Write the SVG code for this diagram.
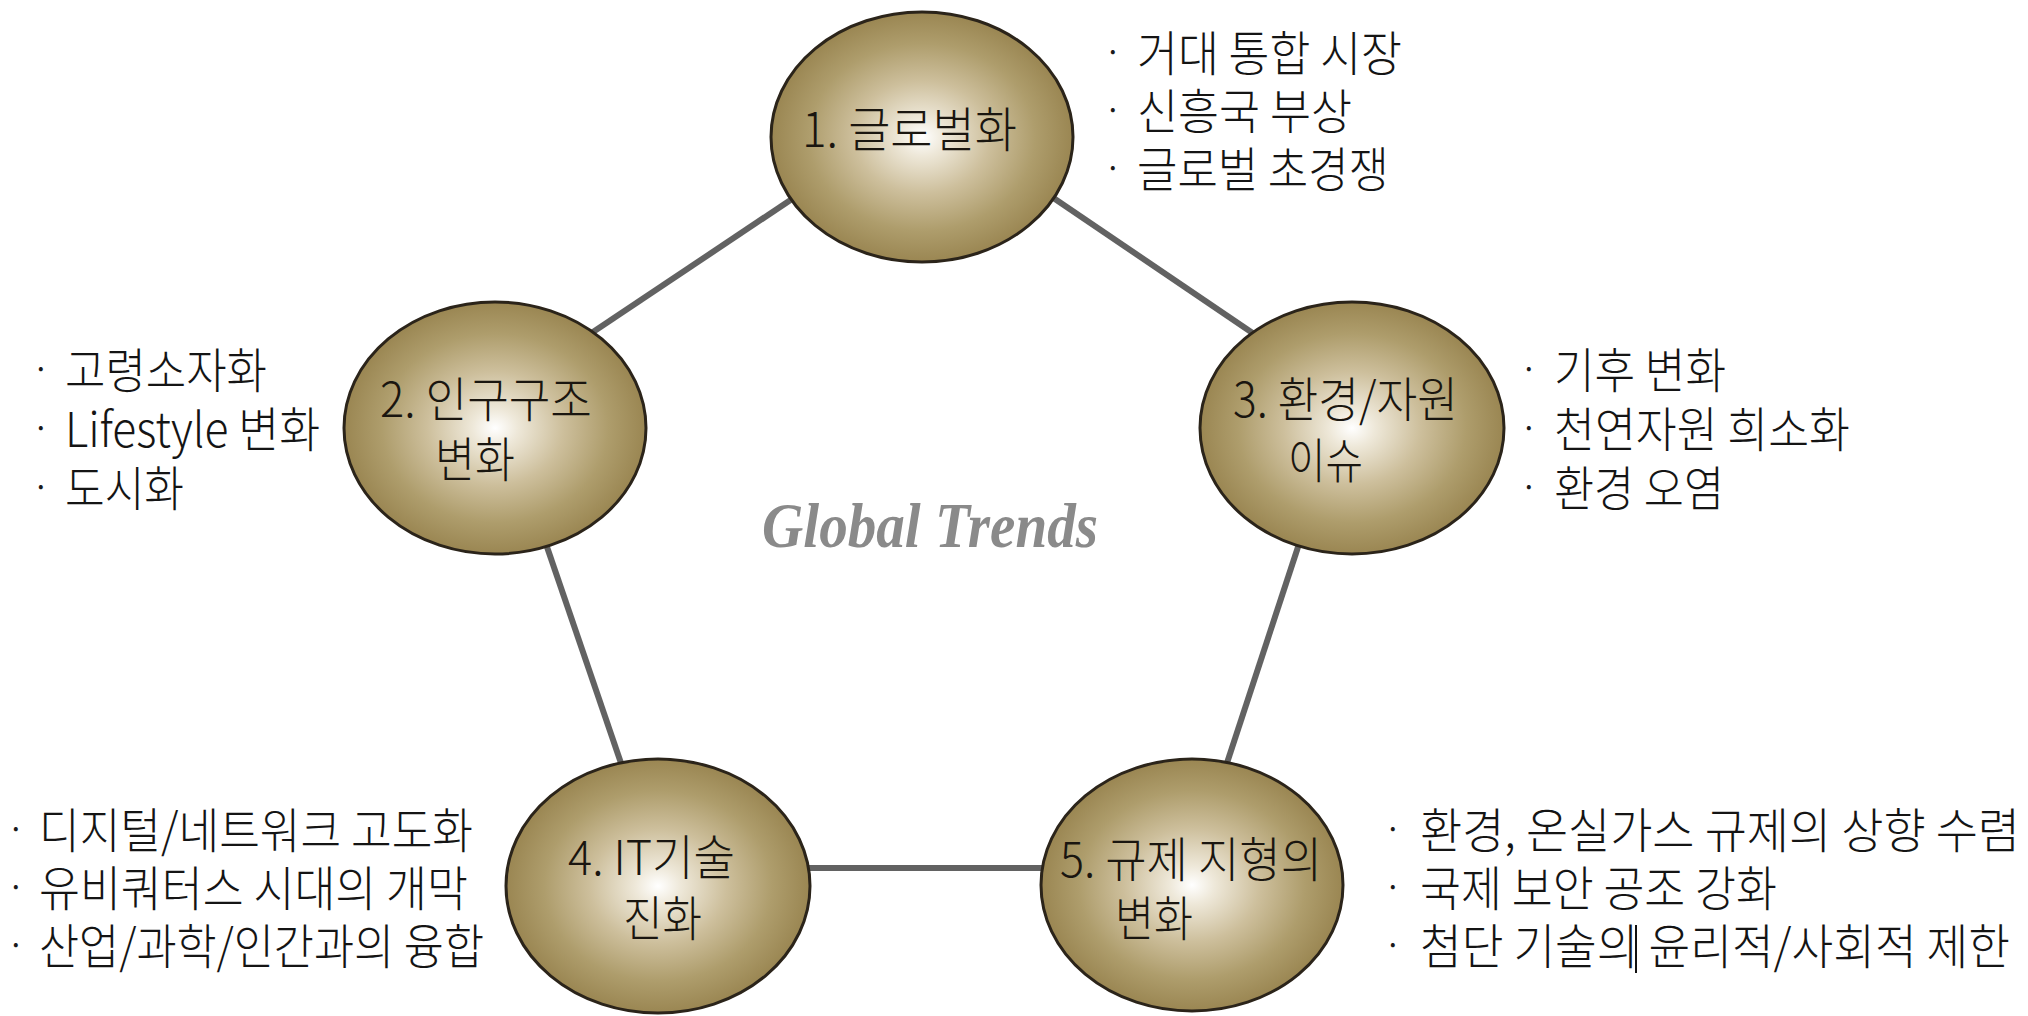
<svg xmlns="http://www.w3.org/2000/svg" width="2028" height="1016" viewBox="0 0 2028 1016">
<style>
.kr{font-family:"Noto Sans CJK KR","Noto Sans",sans-serif;font-size:48px;font-weight:300;fill:#141414}
.lbl{font-family:"Noto Sans CJK KR","Noto Sans",sans-serif;font-size:48px;font-weight:300;fill:#1a1610}
.bul{font-family:"Noto Sans CJK KR","Noto Sans",sans-serif;font-size:30px;fill:#1a1a1a;text-anchor:middle}
.node{fill:url(#gold);stroke:#2b241a;stroke-width:3}
.conn{stroke:#626262;stroke-width:6;fill:none}
.title{font-family:"Liberation Serif",serif;font-style:italic;font-weight:bold;font-size:64px;fill:#8a8a8a}
</style>
<defs>
<radialGradient id="gold" cx="0.5" cy="0.5" r="0.5">
<stop offset="0" stop-color="#ffffff"/>
<stop offset="0.15" stop-color="#eee8d9"/>
<stop offset="0.45" stop-color="#cdbf9c"/>
<stop offset="0.75" stop-color="#ae9d6c"/>
<stop offset="1" stop-color="#9a8652"/>
</radialGradient>
</defs>
<rect width="2028" height="1016" fill="#ffffff"/>
<g id="connectors">
<line class="conn" x1="795" y1="197" x2="590" y2="334"/>
<line class="conn" x1="1052" y1="197" x2="1257" y2="336"/>
<line class="conn" x1="546" y1="544" x2="622" y2="766"/>
<line class="conn" x1="1299" y1="544" x2="1226" y2="766"/>
<line class="conn" x1="806" y1="868" x2="1046" y2="868"/>
</g>
<text id="title" class="title" x="762" y="547" textLength="336" lengthAdjust="spacingAndGlyphs">Global Trends</text>
<g id="node1">
<ellipse class="node" cx="922" cy="137" rx="151" ry="125"/>
<text class="lbl" x="802" y="147" textLength="215" lengthAdjust="spacingAndGlyphs">1. 글로벌화</text>
</g>
<g id="node2">
<ellipse class="node" cx="495" cy="428" rx="151" ry="126"/>
<text class="lbl" x="380" y="417" textLength="212" lengthAdjust="spacingAndGlyphs">2. 인구구조</text>
<text class="lbl" x="435" y="477" textLength="80" lengthAdjust="spacingAndGlyphs">변화</text>
</g>
<g id="node3">
<ellipse class="node" cx="1352" cy="428" rx="152" ry="126"/>
<text class="lbl" x="1233" y="417" textLength="225" lengthAdjust="spacingAndGlyphs">3. 환경/자원</text>
<text class="lbl" x="1288" y="478" textLength="75" lengthAdjust="spacingAndGlyphs">이슈</text>
</g>
<g id="node4">
<ellipse class="node" cx="658" cy="886" rx="152" ry="127"/>
<text class="lbl" x="568" y="875" textLength="167" lengthAdjust="spacingAndGlyphs">4. IT기술</text>
<text class="lbl" x="623" y="936" textLength="79" lengthAdjust="spacingAndGlyphs">진화</text>
</g>
<g id="node5">
<ellipse class="node" cx="1192" cy="885" rx="151" ry="126"/>
<text class="lbl" x="1060" y="877" textLength="262" lengthAdjust="spacingAndGlyphs">5. 규제 지형의</text>
<text class="lbl" x="1115" y="936" textLength="78" lengthAdjust="spacingAndGlyphs">변화</text>
</g>
<g id="notes1">
<text class="bul" x="1113" y="63">·</text>
<text class="bul" x="1113" y="121">·</text>
<text class="bul" x="1113" y="179">·</text>
<text class="kr" x="1137" y="71" textLength="265" lengthAdjust="spacingAndGlyphs">거대 통합 시장</text>
<text class="kr" x="1137" y="129" textLength="215" lengthAdjust="spacingAndGlyphs">신흥국 부상</text>
<text class="kr" x="1137" y="187" textLength="252" lengthAdjust="spacingAndGlyphs">글로벌 초경쟁</text>
</g>
<g id="notes2">
<text class="bul" x="41" y="380">·</text>
<text class="bul" x="41" y="439">·</text>
<text class="bul" x="41" y="498">·</text>
<text class="kr" x="65" y="388" textLength="202" lengthAdjust="spacingAndGlyphs">고령소자화</text>
<text class="kr" x="65" y="447" textLength="255" lengthAdjust="spacingAndGlyphs">Lifestyle 변화</text>
<text class="kr" x="65" y="506" textLength="119" lengthAdjust="spacingAndGlyphs">도시화</text>
</g>
<g id="notes3">
<text class="bul" x="1529" y="380">·</text>
<text class="bul" x="1529" y="439">·</text>
<text class="bul" x="1529" y="498">·</text>
<text class="kr" x="1554" y="388" textLength="172" lengthAdjust="spacingAndGlyphs">기후 변화</text>
<text class="kr" x="1554" y="447" textLength="296" lengthAdjust="spacingAndGlyphs">천연자원 희소화</text>
<text class="kr" x="1554" y="506" textLength="170" lengthAdjust="spacingAndGlyphs">환경 오염</text>
</g>
<g id="notes4">
<text class="bul" x="16" y="840">·</text>
<text class="bul" x="16" y="898">·</text>
<text class="bul" x="16" y="956">·</text>
<text class="kr" x="39" y="848" textLength="434" lengthAdjust="spacingAndGlyphs">디지털/네트워크 고도화</text>
<text class="kr" x="39" y="906" textLength="429" lengthAdjust="spacingAndGlyphs">유비쿼터스 시대의 개막</text>
<text class="kr" x="39" y="964" textLength="445" lengthAdjust="spacingAndGlyphs">산업/과학/인간과의 융합</text>
</g>
<g id="notes5">
<text class="bul" x="1393" y="840">·</text>
<text class="bul" x="1393" y="898">·</text>
<text class="bul" x="1393" y="956">·</text>
<text class="kr" x="1420" y="848" textLength="600" lengthAdjust="spacingAndGlyphs">환경, 온실가스 규제의 상향 수렴</text>
<text class="kr" x="1420" y="906" textLength="357" lengthAdjust="spacingAndGlyphs">국제 보안 공조 강화</text>
<text class="kr" x="1420" y="964" textLength="590" lengthAdjust="spacingAndGlyphs">첨단 기술의 윤리적/사회적 제한</text>
<line x1="1636" y1="925" x2="1636" y2="973" stroke="#111" stroke-width="2"/>
</g>
</svg>
